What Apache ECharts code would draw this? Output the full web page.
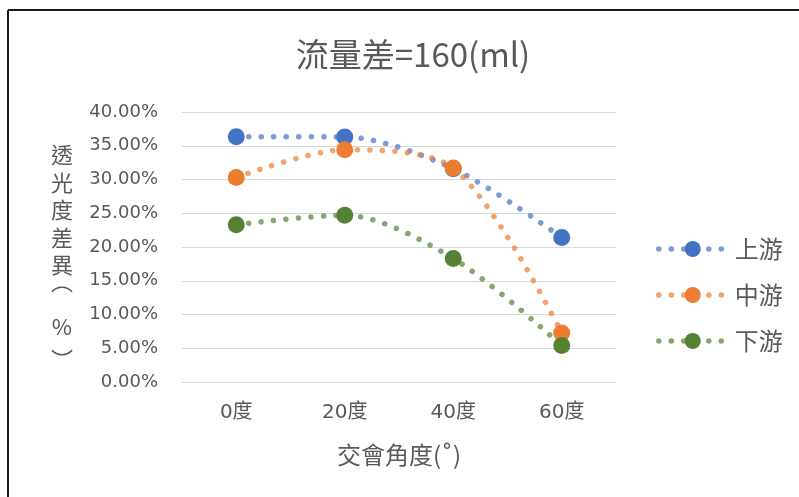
<!DOCTYPE html>
<html>
<head>
<meta charset="utf-8">
<script src="https://cdn.jsdelivr.net/npm/echarts@6/dist/echarts.min.js"></script>
<style>
  html, body { margin: 0; padding: 0; background: #fff; }
  #chart { width: 799px; height: 497px; }
</style>
</head>
<body>
<div id="chart"></div>
<script>
// Angle categories and light-transmittance differences (%) per position
const categories = ['0度', '20度', '40度', '60度'];
const upstream = [36.35, 36.3, 31.6, 21.4];
const midstream = [30.3, 34.4, 31.7, 7.25];
const downstream = [23.3, 24.7, 18.3, 5.4];
const seriesNames = ['上游', '中游', '下游'];
const yTicks = { min: 0, max: 40, step: 5 };
const yNameChars = ['透', '光', '度', '差', '異'];

const latin = '"DejaVu Sans", "Noto Sans CJK TC", sans-serif';
const cjk = '"Noto Sans CJK TC", "DejaVu Sans", sans-serif';
const textColor = '#595959';
const dotPattern = { width: 5.5, opacity: 0.7, type: [0.1, 12.4], cap: 'round' };

// vertical axis title: one character per line, with vertical-form brackets around %
const yName = ['{s| }']
  .concat(yNameChars.map(c => '{a|' + c + '}'))
  .concat(['{p|︵}', '{g| }', '{b|%}', '{q|︶}'])
  .join('\n');
const nameFont = { fontFamily: cjk, fontSize: 22, color: textColor, align: 'center' };

function dottedSeries(name, data, color) {
  return {
    name: name,
    type: 'line',
    data: data,
    smooth: 0.3,
    symbol: 'circle',
    symbolSize: 17,
    itemStyle: { color: color },
    lineStyle: Object.assign({ color: color }, dotPattern),
    emphasis: { disabled: true }
  };
}

const chart = echarts.init(document.getElementById('chart'), null, { renderer: 'canvas' });
chart.setOption({
  animation: false,
  backgroundColor: '#fff',
  title: {
    text: '流量差=160(ml)',
    left: 408,
    textAlign: 'center',
    top: 33,
    textStyle: { fontFamily: cjk, fontSize: 33, fontWeight: 'normal', color: textColor }
  },
  grid: { left: 182, right: 183, top: 112, bottom: 115 },
  legend: {
    orient: 'vertical',
    left: 651,
    top: 232,
    itemWidth: 68,
    itemHeight: 20,
    itemGap: 22,
    data: seriesNames,
    lineStyle: dotPattern,
    textStyle: { fontFamily: cjk, fontSize: 24, color: textColor, padding: [0, 0, 0, 3] }
  },
  xAxis: {
    type: 'category',
    data: categories,
    boundaryGap: true,
    axisLine: { lineStyle: { color: '#D9D9D9', width: 1 } },
    axisTick: { show: false },
    axisLabel: { fontFamily: latin, fontSize: 20, color: textColor, margin: 21 },
    name: '交會角度(˚)',
    nameLocation: 'middle',
    nameGap: 61,
    nameTextStyle: { fontFamily: cjk, fontSize: 24, color: textColor }
  },
  yAxis: {
    type: 'value',
    min: yTicks.min,
    max: yTicks.max,
    interval: yTicks.step,
    axisLine: { show: false },
    axisTick: { show: false },
    splitLine: { lineStyle: { color: '#D9D9D9', width: 1 } },
    axisLabel: {
      fontFamily: latin, fontSize: 18, color: textColor, margin: 24,
      formatter: v => v.toFixed(2) + '%'
    },
    name: yName,
    nameLocation: 'middle',
    nameRotate: 0,
    nameGap: 120,
    nameTextStyle: Object.assign({}, nameFont, {
      rich: {
        s: Object.assign({}, nameFont, { lineHeight: 27 }),
        a: Object.assign({}, nameFont, { lineHeight: 27.5 }),
        p: Object.assign({}, nameFont, { lineHeight: 6 }),
        g: Object.assign({}, nameFont, { lineHeight: 30 }),
        b: Object.assign({}, nameFont, { lineHeight: 24 }),
        q: Object.assign({}, nameFont, { lineHeight: 41 })
      }
    })
  },
  series: [
    dottedSeries(seriesNames[0], upstream, '#4472C4'),
    dottedSeries(seriesNames[1], midstream, '#ED7D31'),
    dottedSeries(seriesNames[2], downstream, '#548235')
  ],
  graphic: [
    { type: 'line', shape: { x1: 8, y1: 10, x2: 799, y2: 10 }, style: { stroke: '#1a1a1a', lineWidth: 2 } },
    { type: 'line', shape: { x1: 8, y1: 10, x2: 8, y2: 497 }, style: { stroke: '#1a1a1a', lineWidth: 2 } }
  ]
});
</script>
</body>
</html>
